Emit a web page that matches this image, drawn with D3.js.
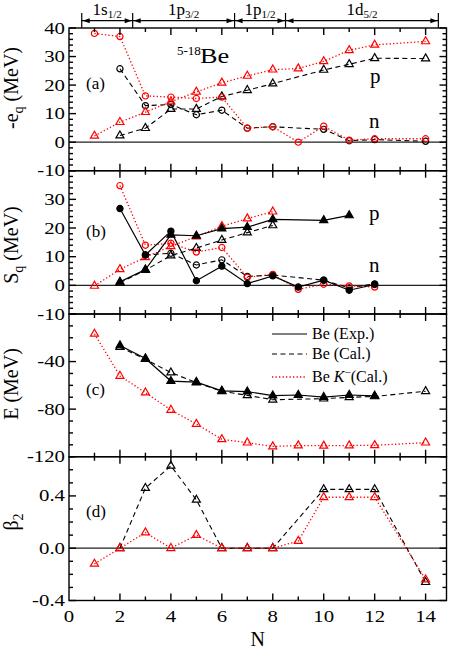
<!DOCTYPE html>
<html>
<head>
<meta charset="utf-8">
<script src="https://cdn.jsdelivr.net/npm/d3@7"></script>
<style>
  body { margin: 0; background: #fff; }
  svg { display: block; }
  text { font-family: "Liberation Serif", "Times New Roman", Times, "DejaVu Serif", serif; fill: #000; }
</style>
</head>
<body>
<svg id="fig" width="452" height="651"></svg>
<script>
// --- data: [N, value] ---

// (a) -e_q (MeV)
const eqNeutronKaon = [[1,38.1],[2,37.0],[3,16.2],[4,15.8],[5,15.3],[6,15.8],[7,4.9],[8,5.4],[9,0.0],[10,5.6],[11,0.7],[12,1.2],[14,1.2]]
const eqNeutronCal  = [[2,25.7],[3,12.8],[4,13.2],[5,9.6],[6,11.2],[7,4.9],[8,5.4],[10,4.5],[11,0.5],[12,0.9],[14,0.3]]
const eqProtonCal   = [[2,2.3],[3,4.9],[4,11.6],[5,11.6],[6,16.0],[7,18.2],[8,20.5],[10,25.3],[11,27.3],[12,29.4],[14,29.3]]
const eqProtonKaon  = [[1,2.2],[2,7.0],[3,10.5],[4,14.2],[5,17.6],[6,20.8],[7,23.2],[8,25.4],[9,25.8],[10,28.3],[11,32.2],[12,34.1],[14,35.3]]

// (b) S_q (MeV)
const sqNeutronExp  = [[2,26.8],[3,10.6],[4,18.9],[5,1.6],[6,6.7],[7,0.6],[8,3.3],[9,-0.6],[10,1.8],[11,-1.7],[12,0.3]]
const sqProtonExp   = [[2,1.2],[3,5.5],[4,17.6],[5,17.3],[6,19.8],[7,20.3],[8,23.0],[10,22.7],[11,24.4]]
const sqNeutronCal  = [[3,10.6],[4,11.2],[5,7.1],[6,8.9],[7,3.1],[8,3.6],[10,1.8],[11,-0.9],[12,0.5]]
const sqProtonCal   = [[2,0.9],[3,5.3],[4,10.4],[5,13.0],[6,15.8],[7,18.4],[8,20.9]]
const sqNeutronKaon = [[2,34.8],[3,14.0],[4,14.7],[5,11.6],[6,13.2],[7,2.8],[8,3.8],[9,-1.4],[10,0.4],[11,-0.2],[12,-0.6]]
const sqProtonKaon  = [[1,-0.2],[2,5.6],[3,9.8],[4,13.6],[5,17.0],[6,20.6],[7,23.3],[8,25.7]]

// (c) E (MeV)
const eExp  = [[2,-26.5],[3,-37.4],[4,-56.4],[5,-57.3],[6,-64.6],[7,-65.3],[8,-68.6],[9,-68.1],[10,-69.9],[11,-68.1],[12,-68.9]]
const eCal  = [[2,-27.9],[3,-38.0],[4,-49.3],[5,-57.6],[6,-65.0],[7,-68.4],[8,-72.1],[10,-71.2],[11,-70.1],[12,-69.3],[14,-65.0]]
const eKaon = [[1,-16.7],[2,-52.1],[3,-66.1],[4,-80.7],[5,-92.5],[6,-105.4],[7,-108.2],[8,-111.4],[9,-110.6],[10,-110.8],[11,-110.6],[12,-110.4],[14,-108.2]]

// (d) beta_2
const beta2Cal  = [[2,0.0],[3,0.46],[4,0.63],[5,0.37],[6,0.0],[7,0.0],[8,0.0],[10,0.45],[11,0.45],[12,0.45],[14,-0.26]]
const beta2Kaon = [[1,-0.12],[2,0.0],[3,0.12],[4,0.0],[5,0.10],[6,0.0],[7,0.0],[8,0.0],[9,0.055],[10,0.39],[11,0.39],[12,0.39],[14,-0.24]]

// axis labels
const xTickLabels = [0,2,4,6,8,10,12,14]
const yTicksA = [-10,0,10,20,30,40]
const yTicksB = [-10,0,10,20,30]
const yTicksC = [-120,-80,-40]
const yTicksD = [-0.4,0.0,0.4]
const shellBounds = [0.5,2.5,6.5,8.5,14.5]
const shellNames = [["1s","1/2"],["1p","3/2"],["1p","1/2"],["1d","5/2"]]
const legendNames = ["Be (Exp.)","Be (Cal.)","Be K"]

const svg = d3.select('#fig')
const x = d3.scaleLinear().domain([0, 14.82]).range([69, 446.5])
const xL = 69, xR = 446.5

const panels = [
  {tag:'(a)', top:28,    bottom:170.7, domain:[-10,40],   major:10,  minor:2,   labels:yTicksA, zero:true,  fmt:d=>String(d)},
  {tag:'(b)', top:170.7, bottom:314,   domain:[-10,40],   major:10,  minor:2,   labels:yTicksB, zero:true,  fmt:d=>String(d)},
  {tag:'(c)', top:314,   bottom:456.7, domain:[-120,0],   major:40,  minor:10,  labels:yTicksC, zero:false, fmt:d=>String(d)},
  {tag:'(d)', top:456.7, bottom:600.5, domain:[-0.4,0.7], major:0.4, minor:0.1, labels:yTicksD, zero:true,  fmt:d=>d.toFixed(1)}
]
panels.forEach(p => p.y = d3.scaleLinear().domain(p.domain).range([p.bottom, p.top]))

const black = '#000', red = '#ff0000'
const styles = {
  solid:  {stroke:black, dash:null,      width:1.2},
  dashed: {stroke:black, dash:'5,3.5',   width:1.1},
  dotted: {stroke:red,   dash:'1.3,2.2', width:1.3}
}

function drawSeries(g, y, data, style, marker, filled) {
  const st = styles[style]
  const line = d3.line().x(d => x(d[0])).y(d => y(d[1]))
  g.append('path')
    .attr('d', line(data))
    .attr('fill', 'none')
    .attr('stroke', st.stroke)
    .attr('stroke-width', st.width)
    .attr('stroke-dasharray', st.dash)
  const sym = d3.symbol().type(marker === 'circle' ? d3.symbolCircle : d3.symbolTriangle)
    .size(marker === 'circle' ? 30 : 28)
  g.selectAll(null)
    .data(data)
    .enter()
    .append('path')
    .attr('d', sym)
    .attr('transform', d => `translate(${x(d[0])},${y(d[1])})`)
    .attr('fill', filled ? st.stroke : 'none')
    .attr('stroke', st.stroke)
    .attr('stroke-width', 1.2)
}

// zero lines first
panels.forEach(p => {
  if (p.zero) {
    svg.append('line')
      .attr('x1', xL).attr('x2', xR)
      .attr('y1', p.y(0)).attr('y2', p.y(0))
      .attr('stroke', '#222').attr('stroke-width', 1.2)
  }
})

// series
const [pa, pb, pc, pd] = panels
const ga = svg.append('g'), gb = svg.append('g'), gc = svg.append('g'), gd = svg.append('g')

drawSeries(ga, pa.y, eqNeutronCal, 'dashed', 'circle', false)
drawSeries(ga, pa.y, eqProtonCal, 'dashed', 'triangle', false)
drawSeries(ga, pa.y, eqNeutronKaon, 'dotted', 'circle', false)
drawSeries(ga, pa.y, eqProtonKaon, 'dotted', 'triangle', false)

drawSeries(gb, pb.y, sqNeutronCal, 'dashed', 'circle', false)
drawSeries(gb, pb.y, sqProtonCal, 'dashed', 'triangle', false)
drawSeries(gb, pb.y, sqNeutronKaon, 'dotted', 'circle', false)
drawSeries(gb, pb.y, sqProtonKaon, 'dotted', 'triangle', false)
drawSeries(gb, pb.y, sqNeutronExp, 'solid', 'circle', true)
drawSeries(gb, pb.y, sqProtonExp, 'solid', 'triangle', true)

drawSeries(gc, pc.y, eCal, 'dashed', 'triangle', false)
drawSeries(gc, pc.y, eKaon, 'dotted', 'triangle', false)
drawSeries(gc, pc.y, eExp, 'solid', 'triangle', true)

drawSeries(gd, pd.y, beta2Cal, 'dashed', 'triangle', false)
drawSeries(gd, pd.y, beta2Kaon, 'dotted', 'triangle', false)

// frames and ticks
const axisG = svg.append('g').attr('stroke', black).attr('stroke-width', 1.4)
const xTicks = d3.range(1, 15)
panels.forEach((p, i) => {
  axisG.append('rect')
    .attr('x', xL).attr('y', p.top)
    .attr('width', xR - xL).attr('height', p.bottom - p.top)
    .attr('fill', 'none')
  // x ticks, inward at top and bottom of each panel
  xTicks.forEach(n => {
    const len = n % 2 === 0 ? 7 : 4
    axisG.append('line').attr('x1', x(n)).attr('x2', x(n)).attr('y1', p.top).attr('y2', p.top + len)
    axisG.append('line').attr('x1', x(n)).attr('x2', x(n)).attr('y1', p.bottom).attr('y2', p.bottom - len)
  })
  // y ticks, both sides
  const nMinor = Math.round((p.domain[1] - p.domain[0]) / p.minor)
  d3.range(0, nMinor + 1).forEach(k => {
    const v = +(p.domain[0] + k * p.minor).toFixed(4)
    const isMajor = Math.abs(v / p.major - Math.round(v / p.major)) < 1e-6
    const len = isMajor ? 7 : 4
    axisG.append('line').attr('x1', xL).attr('x2', xL + len).attr('y1', p.y(v)).attr('y2', p.y(v))
    axisG.append('line').attr('x1', xR).attr('x2', xR - len).attr('y1', p.y(v)).attr('y2', p.y(v))
  })
  // y tick labels
  svg.selectAll(null)
    .data(p.labels)
    .enter()
    .append('text')
    .attr('transform', d => `translate(65,${p.y(d) + 5.5}) scale(1.3,1)`)
    .attr('text-anchor', 'end')
    .style('font-size', '16px')
    .text(d => p.fmt(d))
  // panel tag
  svg.append('text')
    .attr('x', 86)
    .attr('y', [89, 237, 395, 517][i])
    .style('font-size', '17px')
    .text(p.tag)
})

// x tick labels
svg.selectAll(null)
  .data(xTickLabels)
  .enter()
  .append('text')
  .attr('transform', d => `translate(${x(d)},622) scale(1.3,1)`)
  .attr('text-anchor', 'middle')
  .style('font-size', '16px')
  .text(d => d)

svg.append('text')
  .attr('x', (xL + xR) / 2).attr('y', 646)
  .attr('text-anchor', 'middle')
  .style('font-size', '20px')
  .text('N')

// y axis titles
function yTitle(cy, build) {
  const t = svg.append('text')
    .attr('transform', `translate(18,${cy}) rotate(-90)`)
    .attr('text-anchor', 'middle')
    .style('font-size', '20px')
  build(t)
}
yTitle(88, t => {
  t.append('tspan').text('-e')
  t.append('tspan').attr('dy', 5).style('font-size', '14px').text('q')
  t.append('tspan').attr('dy', -5).text(' (MeV)')
})
yTitle(245, t => {
  t.append('tspan').text('S')
  t.append('tspan').attr('dy', 5).style('font-size', '14px').text('q')
  t.append('tspan').attr('dy', -5).text(' (MeV)')
})
yTitle(384, t => t.text('E (MeV)'))
yTitle(522, t => {
  t.append('tspan').text('β')
  t.append('tspan').attr('dy', 5).style('font-size', '14px').text('2')
})

// nucleus label and p / n tags
svg.append('text').attr('x', 177).attr('y', 55).style('font-size', '13px').text('5-18')
svg.append('text').attr('transform', 'translate(200,63) scale(1.25,1)').style('font-size', '21px').text('Be')
svg.append('text').attr('x', 370).attr('y', 83).style('font-size', '21px').text('p')
svg.append('text').attr('x', 369).attr('y', 128).style('font-size', '21px').text('n')
svg.append('text').attr('x', 369).attr('y', 220).style('font-size', '21px').text('p')
svg.append('text').attr('x', 369).attr('y', 272).style('font-size', '21px').text('n')

// legend in panel (c)
const legendStyles = ['solid', 'dashed', 'dotted']
const legendY = [334, 354, 377]
legendStyles.forEach((s, i) => {
  const st = styles[s]
  svg.append('line')
    .attr('x1', 272).attr('x2', 307)
    .attr('y1', legendY[i]).attr('y2', legendY[i])
    .attr('stroke', st.stroke).attr('stroke-width', st.width)
    .attr('stroke-dasharray', st.dash)
  const t = svg.append('text')
    .attr('x', 312).attr('y', legendY[i] + 5)
    .style('font-size', '16px')
  if (i < 2) t.text(legendNames[i])
  else {
    t.append('tspan').text(legendNames[i].slice(0, 3))
    t.append('tspan').style('font-style', 'italic').text('K')
    t.append('tspan').attr('dy', -6).style('font-size', '11px').text('−')
    t.append('tspan').attr('dy', 6).text('(Cal.)')
  }
})

// shell header with arrows
const hy = 20.7
const head = svg.append('g').attr('stroke', black).attr('stroke-width', 1.2)
head.append('line').attr('x1', x(shellBounds[0])).attr('x2', x(shellBounds[shellBounds.length - 1]))
  .attr('y1', hy).attr('y2', hy)
shellBounds.forEach(b => {
  head.append('line').attr('x1', x(b)).attr('x2', x(b)).attr('y1', 13).attr('y2', 28)
})
for (let i = 0; i < shellBounds.length - 1; i++) {
  const a = x(shellBounds[i]), b = x(shellBounds[i + 1])
  svg.append('path').attr('d', `M${a + 1},${hy} l7,-2.5 l0,5 z`).attr('fill', black)
  svg.append('path').attr('d', `M${b - 1},${hy} l-7,-2.5 l0,5 z`).attr('fill', black)
  const t = svg.append('text')
    .attr('x', x((shellBounds[i] + shellBounds[i + 1]) / 2))
    .attr('y', 15)
    .attr('text-anchor', 'middle')
    .style('font-size', '17px')
  t.append('tspan').text(shellNames[i][0])
  t.append('tspan').attr('dy', 3).style('font-size', '11px').text(shellNames[i][1])
}
</script>
</body>
</html>
